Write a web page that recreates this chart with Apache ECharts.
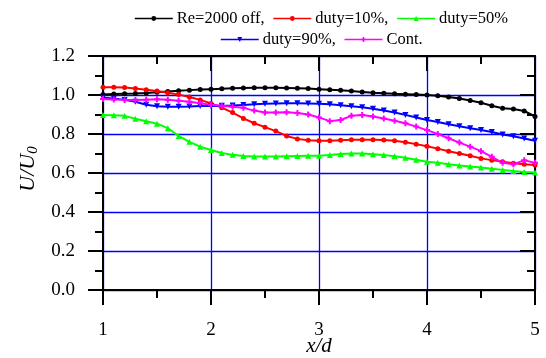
<!DOCTYPE html>
<html>
<head>
<meta charset="utf-8">
<script src="https://cdn.jsdelivr.net/npm/echarts@6/dist/echarts.min.js"></script>
<style>html,body{margin:0;padding:0;background:#fff;}#c{width:546px;height:358px;}</style>
</head>
<body>
<div id="c"></div>
<script>
const xValues = [1.0,1.1,1.2,1.3,1.4,1.5,1.6,1.7,1.8,1.9,2.0,2.1,2.2,2.3,2.4,2.5,2.6,2.7,2.8,2.9,3.0,3.1,3.2,3.3,3.4,3.5,3.6,3.7,3.8,3.9,4.0,4.1,4.2,4.3,4.4,4.5,4.6,4.7,4.8,4.9,5.0];
const reOff = [1.003,1.005,1.007,1.008,1.010,1.014,1.018,1.022,1.025,1.028,1.030,1.032,1.034,1.036,1.037,1.037,1.037,1.036,1.035,1.033,1.030,1.027,1.024,1.020,1.016,1.012,1.009,1.006,1.004,1.002,1.000,0.996,0.990,0.982,0.972,0.960,0.945,0.932,0.928,0.918,0.890];
const duty10 = [1.040,1.040,1.038,1.033,1.027,1.020,1.012,1.002,0.990,0.975,0.957,0.935,0.910,0.880,0.855,0.835,0.815,0.790,0.775,0.768,0.765,0.766,0.768,0.770,0.770,0.770,0.769,0.765,0.758,0.748,0.737,0.725,0.712,0.700,0.688,0.675,0.666,0.658,0.650,0.645,0.641];
const duty50 = [0.897,0.896,0.893,0.878,0.865,0.853,0.830,0.790,0.760,0.735,0.718,0.703,0.693,0.687,0.685,0.685,0.685,0.686,0.687,0.688,0.688,0.692,0.697,0.700,0.700,0.696,0.692,0.686,0.678,0.668,0.658,0.652,0.645,0.638,0.633,0.628,0.622,0.616,0.610,0.605,0.602];
const duty90 = [0.986,0.982,0.975,0.965,0.950,0.942,0.940,0.940,0.941,0.943,0.944,0.945,0.946,0.949,0.952,0.955,0.957,0.958,0.958,0.957,0.955,0.953,0.948,0.942,0.937,0.930,0.920,0.910,0.898,0.885,0.872,0.862,0.850,0.840,0.830,0.820,0.810,0.797,0.788,0.777,0.765];
const cont = [0.979,0.977,0.975,0.974,0.976,0.978,0.976,0.971,0.965,0.958,0.950,0.945,0.940,0.934,0.920,0.910,0.910,0.911,0.908,0.900,0.885,0.866,0.872,0.893,0.897,0.890,0.880,0.868,0.855,0.838,0.820,0.800,0.778,0.756,0.735,0.712,0.683,0.652,0.645,0.665,0.652];

const seriesNames = ['Re=2000 off','duty=10%','duty=50%','duty=90%','Cont.'];
const seriesValues = [reOff, duty10, duty50, duty90, cont];
const seriesColors = ['#000000','#ff0000','#00ff00','#0000ff','#ff00ff'];
const seriesSymbols = ['circle','circle','triangle','triangle','path://M2,0H4V2H6V4H4V6H2V4H0V2H2Z'];
const seriesRot = [0,0,0,180,0];
const seriesSymSize = [5,5,6,6,6];

const FONT = "'Liberation Serif', 'Times New Roman', Times, 'DejaVu Serif', serif";
const chart = echarts.init(document.getElementById('c'), null, {renderer:'canvas'});

const series = seriesNames.map((n,i)=>({
  name:n, type:'line', xAxisIndex:0, yAxisIndex:0,
  data: xValues.map((x,j)=>[x, seriesValues[i][j]]),
  symbol: seriesSymbols[i], symbolRotate: seriesRot[i], symbolSize: seriesSymSize[i],
  showAllSymbol: true,
  lineStyle:{color:seriesColors[i], width:2},
  itemStyle:{color:seriesColors[i]},
  emphasis:{disabled:true}, animation:false, z: 3
}));

const legendFmt = n => (n==='duty=50%'||n==='Cont.') ? n : n + ',';
const legendCommon = {
  orient:'horizontal', itemWidth:38, itemHeight:6, itemGap:8,
  lineStyle:{width:1.5},
  textStyle:{fontFamily:FONT, fontSize:16.5, color:'#000', padding:[0,0,0,-1]},
  formatter: legendFmt, selectedMode:false
};

chart.setOption({
  animation:false,
  backgroundColor:'#fff',
  textStyle:{fontFamily:FONT},
  legend:[
    Object.assign({left:129, top:5, data:seriesNames.slice(0,3)}, legendCommon),
    Object.assign({left:215, top:26, data:seriesNames.slice(3)}, legendCommon)
  ],
  grid:{left:103, right:11, top:56, bottom:68, containLabel:false, outerBoundsMode:'none'},
  xAxis:[
    {type:'value', position:'bottom', min:1, max:5, interval:1,
     name:'x/d', nameLocation:'middle', nameGap:46, nameMoveOverlap:false,
     nameTextStyle:{fontFamily:FONT, fontSize:21, fontStyle:'italic', color:'#000'},
     axisLine:{show:true, onZero:false, lineStyle:{color:'#000', width:2}},
     axisTick:{show:true, inside:false, length:15, lineStyle:{color:'#000', width:2}},
     minorTick:{show:true, splitNumber:2, length:8, lineStyle:{color:'#000', width:2}},
     axisLabel:{fontFamily:FONT, fontSize:19, color:'#000', margin:31},
     splitLine:{show:true, lineStyle:{color:'#0000ff', width:1.3}}},
    {type:'value', position:'top', min:1, max:5, interval:1,
     axisLine:{show:true, onZero:false, lineStyle:{color:'#000', width:2}},
     axisTick:{show:true, inside:true, length:15, lineStyle:{color:'#000', width:2}},
     minorTick:{show:true, splitNumber:2, length:8, lineStyle:{color:'#000', width:2}},
     axisLabel:{show:false}, splitLine:{show:false}}
  ],
  yAxis:[
    {type:'value', position:'left', min:0, max:1.2, interval:0.2,
     name:'{a|U/U}{b|0}', nameLocation:'middle', nameGap:62, nameRotate:90, nameMoveOverlap:false,
     nameTextStyle:{padding:[0,0,0,8], rich:{
        a:{fontFamily:FONT, fontSize:22, fontStyle:'italic', color:'#000'},
        b:{fontFamily:FONT, fontSize:15, fontStyle:'italic', color:'#000', verticalAlign:'bottom', padding:[10,0,0,0]}}},
     axisLine:{show:true, onZero:false, lineStyle:{color:'#000', width:2}},
     axisTick:{show:true, inside:false, length:15, lineStyle:{color:'#000', width:2}},
     minorTick:{show:true, splitNumber:2, length:8, lineStyle:{color:'#000', width:2}},
     axisLabel:{fontFamily:FONT, fontSize:19, color:'#000', margin:28, formatter:v=>v.toFixed(1)},
     splitLine:{show:true, lineStyle:{color:'#0000ff', width:1.3}}},
    {type:'value', position:'right', min:0, max:1.2, interval:0.2,
     axisLine:{show:true, onZero:false, lineStyle:{color:'#000', width:2}},
     axisTick:{show:true, inside:true, length:15, lineStyle:{color:'#000', width:2}},
     minorTick:{show:true, splitNumber:2, length:8, lineStyle:{color:'#000', width:2}},
     axisLabel:{show:false}, splitLine:{show:false}}
  ],
  series: series
});
</script>
</body>
</html>
